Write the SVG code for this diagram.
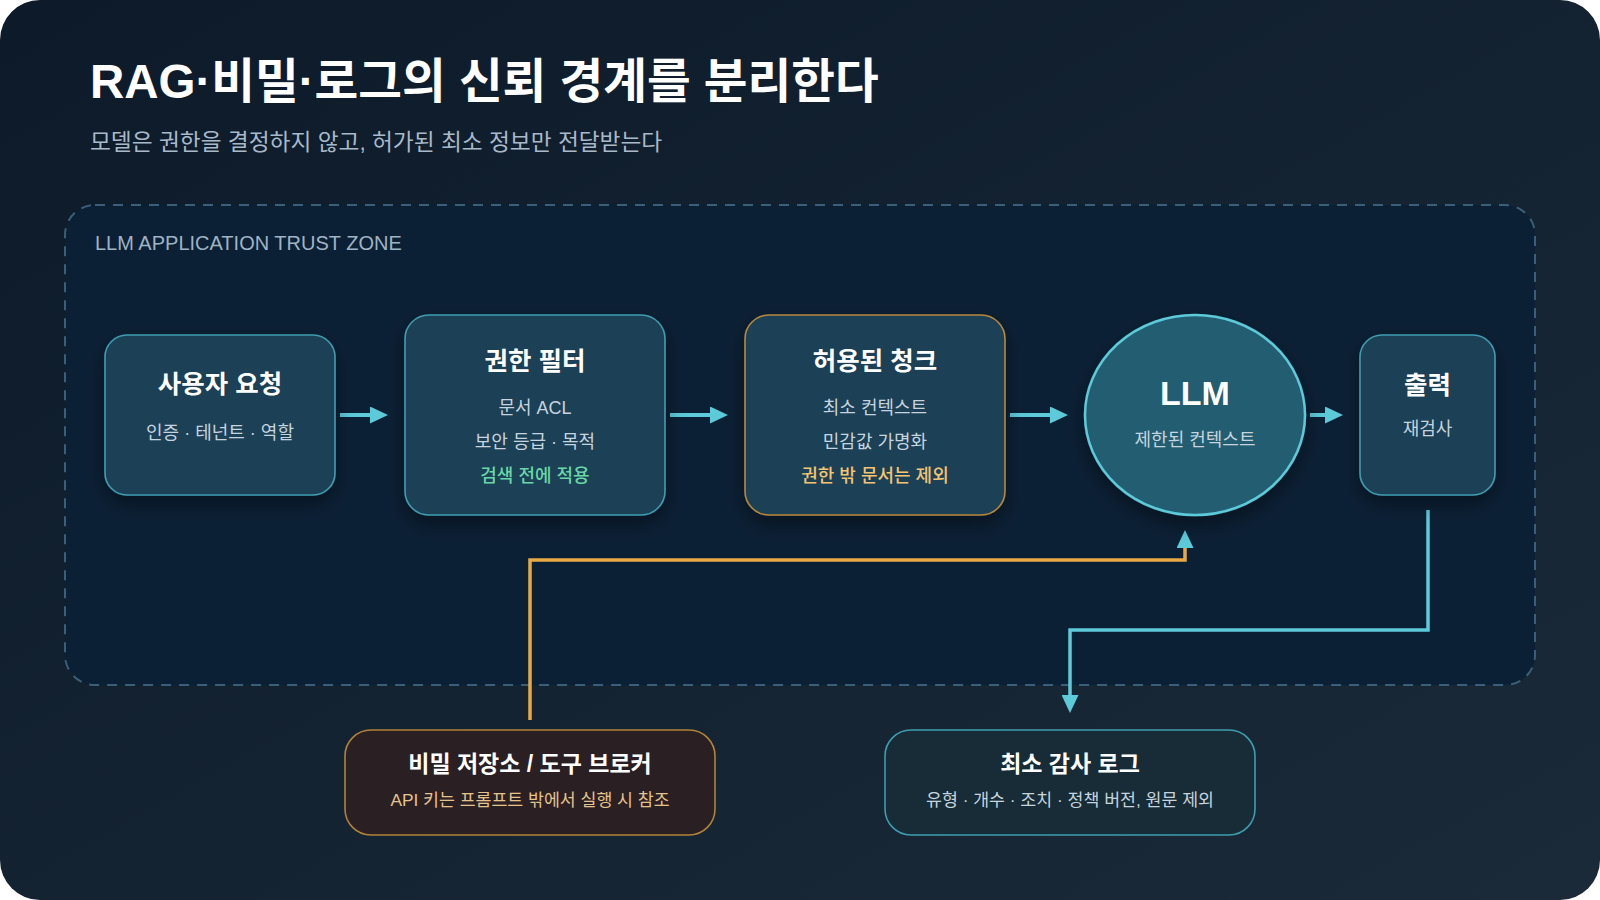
<svg xmlns="http://www.w3.org/2000/svg" width="1600" height="900" viewBox="0 0 1600 900">
  <defs>
    <linearGradient id="bg" x1="0" y1="0" x2="1" y2="1">
      <stop offset="0" stop-color="#0c1a29"/>
      <stop offset="1" stop-color="#1b2a38"/>
    </linearGradient>
    <filter id="shadow" x="-30%" y="-30%" width="160%" height="170%">
      <feDropShadow dx="0" dy="8" stdDeviation="10" flood-color="#000000" flood-opacity="0.4"/>
    </filter>
    <marker id="arrow" viewBox="0 0 18 17" markerUnits="userSpaceOnUse" markerWidth="18" markerHeight="17" refX="0" refY="8.5" orient="auto">
      <path d="M0,0 L18,8.5 L0,17 Z" fill="#5ccad9"/>
    </marker>
    <style>
      text { font-family: "Liberation Sans", "Noto Sans CJK KR", sans-serif; }
      .title { font-size: 47.5px; font-weight: 700; fill: #ffffff; }
      .subtitle { font-size: 22.7px; fill: #a9b9c9; }
      .zone-label { font-size: 20px; fill: #9fb3c4; }
      .node-title { font-size: 25.5px; font-weight: 700; fill: #ffffff; text-anchor: middle; }
      .node-sub { font-size: 18px; fill: #c6d4df; text-anchor: middle; }
      .bot-title { font-size: 23px; font-weight: 700; fill: #ffffff; text-anchor: middle; }
      .bot-sub { font-size: 17.3px; fill: #c6d4df; text-anchor: middle; }
      .green { fill: #6ad7a7; font-weight: 500; }
      .amber { fill: #f4c470; font-weight: 500; }
      .tan { fill: #e5c48c; }
      .box { fill: #1e3f57; stroke: #3f9db0; stroke-width: 1.6; filter: url(#shadow); }
      .box-amber { fill: #1e3f57; stroke: #b5883c; stroke-width: 1.6; filter: url(#shadow); }
      .flow { fill: none; stroke: #5ccad9; stroke-width: 4; }
      .link-cyan { fill: none; stroke: #5ccad9; stroke-width: 3.5; }
      .link-amber { fill: none; stroke: #e8a945; stroke-width: 3.5; }
    </style>
  </defs>

  <rect x="0" y="0" width="1600" height="900" rx="40" ry="40" fill="url(#bg)"/>

  <text class="title" x="90" y="98">RAG·비밀·로그의 신뢰 경계를 분리한다</text>
  <text class="subtitle" x="90" y="150">모델은 권한을 결정하지 않고, 허가된 최소 정보만 전달받는다</text>

  <g id="trust-zone">
    <rect x="65" y="205" width="1470" height="480" rx="30" ry="30" fill="#0c2035" stroke="#3b5f78" stroke-width="2" stroke-dasharray="10 8"/>
    <text class="zone-label" x="95" y="250">LLM APPLICATION TRUST ZONE</text>
  </g>

  <g id="connectors">
    <path class="flow" d="M340,415 H370" marker-end="url(#arrow)"/>
    <path class="flow" d="M670,415 H710" marker-end="url(#arrow)"/>
    <path class="flow" d="M1010,415 H1050" marker-end="url(#arrow)"/>
    <path class="flow" d="M1310,415 H1325" marker-end="url(#arrow)"/>
    <path class="link-amber" d="M530,720 V560 H1185 V548" marker-end="url(#arrow)"/>
    <path class="link-cyan" d="M1428,510 V630 H1070 V695" marker-end="url(#arrow)"/>
  </g>

  <g id="node-user-request">
    <rect class="box" x="105" y="335" width="230" height="160" rx="22" ry="22"/>
    <text class="node-title" x="220" y="393">사용자 요청</text>
    <text class="node-sub" x="220" y="439">인증 · 테넌트 · 역할</text>
  </g>

  <g id="node-permission-filter">
    <rect class="box" x="405" y="315" width="260" height="200" rx="24" ry="24"/>
    <text class="node-title" x="535" y="370">권한 필터</text>
    <text class="node-sub" x="535" y="414">문서 ACL</text>
    <text class="node-sub" x="535" y="448">보안 등급 · 목적</text>
    <text class="node-sub green" x="535" y="482">검색 전에 적용</text>
  </g>

  <g id="node-allowed-chunks">
    <rect class="box-amber" x="745" y="315" width="260" height="200" rx="24" ry="24"/>
    <text class="node-title" x="875" y="370">허용된 청크</text>
    <text class="node-sub" x="875" y="414">최소 컨텍스트</text>
    <text class="node-sub" x="875" y="448">민감값 가명화</text>
    <text class="node-sub amber" x="875" y="482">권한 밖 문서는 제외</text>
  </g>

  <g id="node-llm">
    <ellipse cx="1195" cy="415" rx="110" ry="100" fill="#235d71" stroke="#5ccad9" stroke-width="2.5" filter="url(#shadow)"/>
    <text class="node-title" x="1195" y="405" style="font-size:34px">LLM</text>
    <text class="node-sub" x="1195" y="446">제한된 컨텍스트</text>
  </g>

  <g id="node-output">
    <rect class="box" x="1360" y="335" width="135" height="160" rx="22" ry="22"/>
    <text class="node-title" x="1427.5" y="394">출력</text>
    <text class="node-sub" x="1427.5" y="435">재검사</text>
  </g>

  <g id="node-secrets">
    <rect x="345" y="730" width="370" height="105" rx="26" ry="26" fill="#2a1f23" stroke="#b0833a" stroke-width="1.6"/>
    <text class="bot-title" x="530" y="772">비밀 저장소 / 도구 브로커</text>
    <text class="bot-sub tan" x="530" y="806">API 키는 프롬프트 밖에서 실행 시 참조</text>
  </g>

  <g id="node-audit-log">
    <rect x="885" y="730" width="370" height="105" rx="26" ry="26" fill="#172c37" stroke="#3f9db0" stroke-width="1.6"/>
    <text class="bot-title" x="1070" y="772">최소 감사 로그</text>
    <text class="bot-sub" x="1070" y="806">유형 · 개수 · 조치 · 정책 버전, 원문 제외</text>
  </g>
</svg>
